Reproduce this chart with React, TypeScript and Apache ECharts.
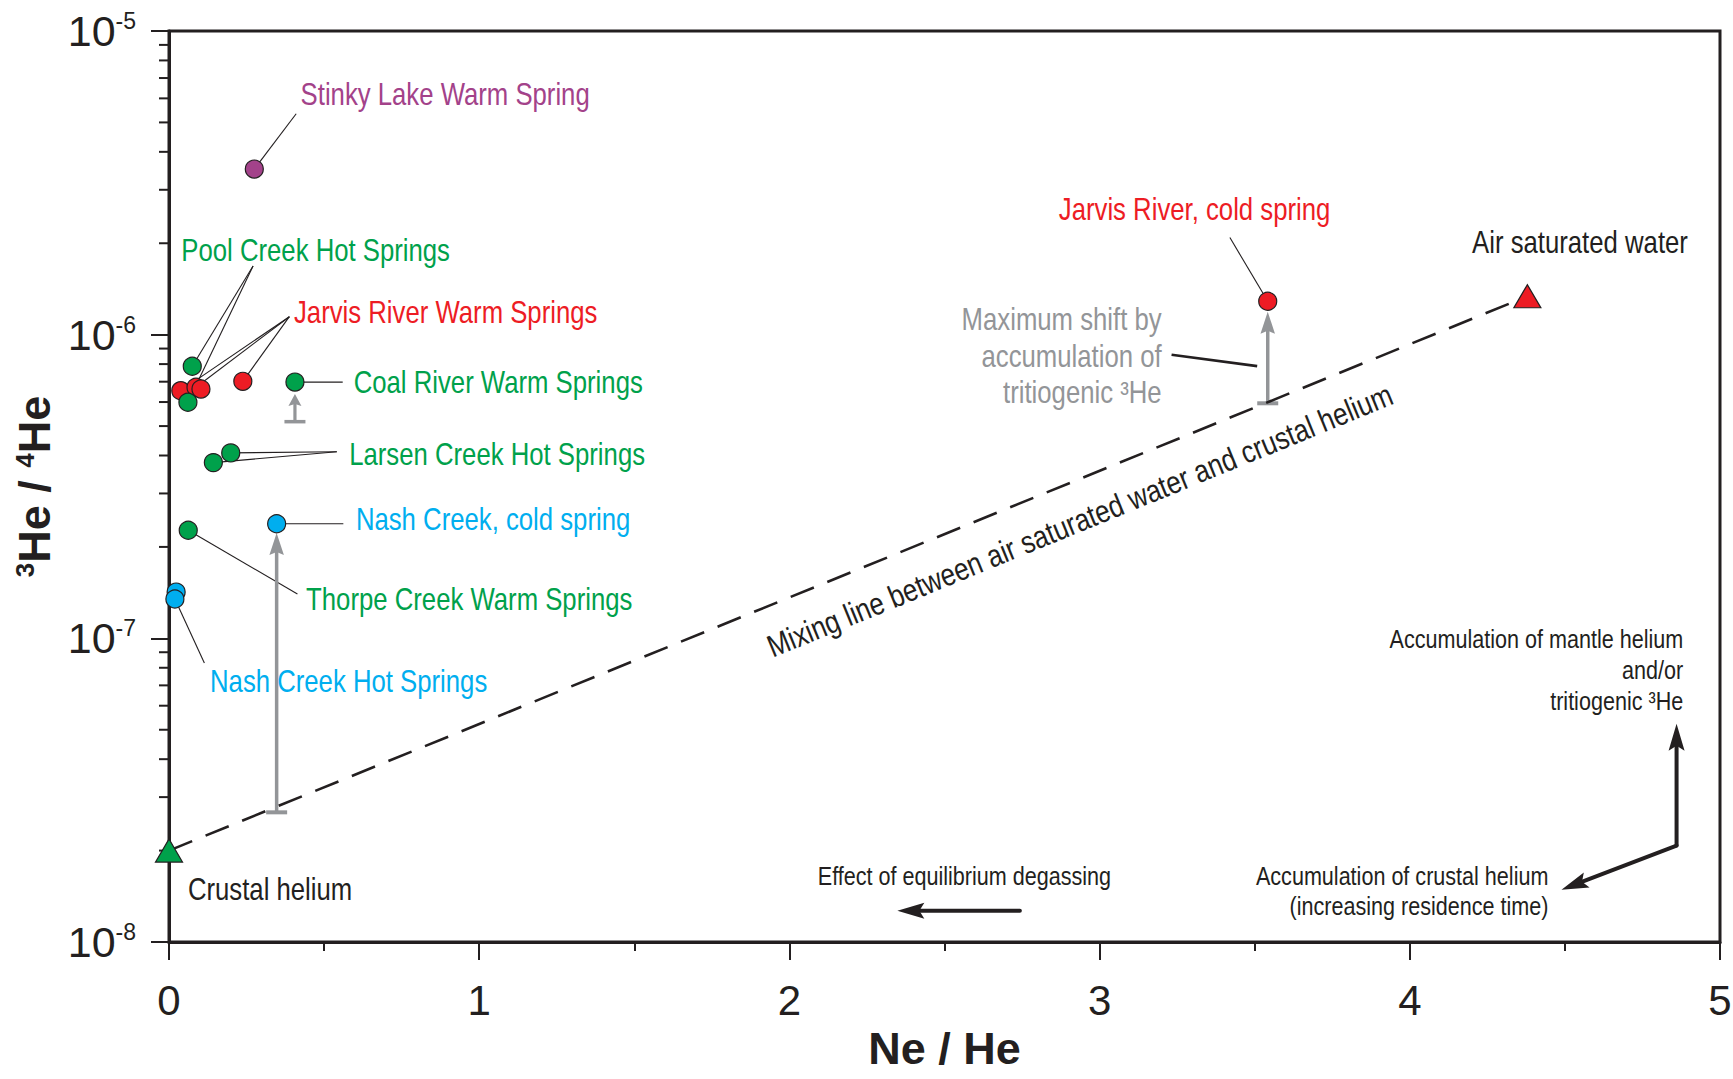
import React, { useEffect, useRef } from 'react';
import * as echarts from 'echarts';

const FONT = "'Liberation Sans Narrow', 'Arial Narrow', 'Liberation Sans', Arial, sans-serif";
const NARROW = 0.83; // horizontal condensing of annotation text (narrow face not installed)
const INK = '#231F20';
const GREEN = '#00A14B';
const RED = '#ED1C24';
const BLUE = '#00AEEF';
const PURPLE = '#A3428A';
const GRAY = '#939598';

// ---------- axis ticks ----------
const yMinorTicks = [
  2e-8, 3e-8, 4e-8, 5e-8, 6e-8, 7e-8, 8e-8, 9e-8,
  2e-7, 3e-7, 4e-7, 5e-7, 6e-7, 7e-7, 8e-7, 9e-7,
  2e-6, 3e-6, 4e-6, 5e-6, 6e-6, 7e-6, 8e-6, 9e-6,
];

// ---------- samples: [Ne/He, 3He/4He] ----------
const jarvisWarm = [[0.038, 6.54e-7], [0.087, 6.71e-7], [0.103, 6.62e-7], [0.238, 7.02e-7]];
const poolCreek = [[0.075, 7.87e-7], [0.061, 5.99e-7]];
const coalRiver = [[0.406, 6.98e-7]];
const larsenCreek = [[0.143, 3.79e-7], [0.199, 4.08e-7]];
const thorpeCreek = [[0.062, 2.27e-7]];
const nashHot = [[0.023, 1.42e-7], [0.019, 1.347e-7]];
const nashCold = [[0.347, 2.385e-7]];
const stinkyLake = [[0.275, 3.51e-6]];
const jarvisCold = [[3.542, 1.288e-6]];
const airSaturatedWater = [[4.379, 1.338e-6]];
const crustalHelium = [[0, 2.0e-8]];
const mixingLine = [[0, 2.0e-8], [4.379, 1.338e-6]];

// ---------- leader lines [x1, y1, x2, y2] ----------
const leaderLines = [
  [0.275, 3.51e-6, 0.41, 5.34e-6],
  [0.271, 1.683e-6, 0.075, 7.87e-7],
  [0.271, 1.683e-6, 0.061, 5.99e-7],
  [0.388, 1.146e-6, 0.038, 6.54e-7],
  [0.388, 1.146e-6, 0.087, 6.71e-7],
  [0.388, 1.146e-6, 0.238, 7.02e-7],
  [0.406, 6.98e-7, 0.56, 6.98e-7],
  [0.541, 4.117e-7, 0.143, 3.79e-7],
  [0.541, 4.117e-7, 0.199, 4.08e-7],
  [0.347, 2.385e-7, 0.562, 2.385e-7],
  [0.062, 2.27e-7, 0.414, 1.4e-7],
  [0.019, 1.347e-7, 0.114, 8.29e-8],
  [3.542, 1.288e-6, 3.42, 2.088e-6],
];
const maxShiftLeader = [[3.232, 8.585e-7, 3.508, 7.88e-7]];

// ---------- arrows [x1, y1, x2, y2] ----------
const tritiumShifts = [
  [0.347, 2.673e-8, 0.347, 2.222e-7],
  [3.542, 5.943e-7, 3.542, 1.19e-6],
];
const tritiumShiftCoal = [[0.406, 5.17e-7, 0.406, 6.38e-7]];
const processArrows = [
  [2.743, 1.268e-8, 2.348, 1.268e-8],
  [4.86, 2.078e-8, 4.86, 5.23e-8],
  [4.86, 2.078e-8, 4.489, 1.487e-8],
];

// ---------- annotation texts ----------
const purpleLabels = [{ text: 'Stinky Lake Warm Spring', x: 0.4242, y: 6.2e-6 }];
const greenLabels = [
  { text: 'Pool Creek Hot Springs', x: 0.0396, y: 1.904e-6 },
  { text: 'Coal River Warm Springs', x: 0.5954, y: 7.0e-7 },
  { text: 'Larsen Creek Hot Springs', x: 0.5809, y: 4.046e-7 },
  { text: 'Thorpe Creek Warm Springs', x: 0.442, y: 1.347e-7 },
];
const redLabels = [
  { text: 'Jarvis River Warm Springs', x: 0.403, y: 1.1876e-6 },
  { text: 'Jarvis River, cold spring', x: 2.8685, y: 2.596e-6 },
];
const blueLabels = [
  { text: 'Nash Creek, cold spring', x: 0.6025, y: 2.472e-7 },
  { text: 'Nash Creek Hot Springs', x: 0.1322, y: 7.237e-8 },
];
const endMemberLabels = [
  { text: 'Air saturated water', x: 4.2008, y: 2.019e-6 },
  { text: 'Crustal helium', x: 0.0609, y: 1.495e-8 },
];
const maxShiftLabel = [{ text: 'Maximum shift by\naccumulation of\ntritiogenic ³He', x: 3.2, y: 8.513e-7 }];
const processLabelsRight = [
  { text: 'Accumulation of mantle helium\nand/or\ntritiogenic ³He', x: 4.8814, y: 7.874e-8 },
  { text: 'Accumulation of crustal helium\n(increasing residence time)', x: 4.4468, y: 1.475e-8 },
];
const processLabelsLeft = [{ text: 'Effect of equilibrium degassing', x: 2.0916, y: 1.658e-8 }];
const mixingLabel = [{ text: 'Mixing line between air saturated water and crustal helium', x: 2.936, y: 2.443e-7 }];

function arrowGeom(tip: number[], from: number[], L: number, W: number, notch: number) {
  const dx = tip[0] - from[0];
  const dy = tip[1] - from[1];
  const len = Math.hypot(dx, dy) || 1;
  const ux = dx / len;
  const uy = dy / len;
  const px = -uy;
  const py = ux;
  const bx = tip[0] - ux * L;
  const by = tip[1] - uy * L;
  return {
    points: [
      [tip[0], tip[1]],
      [bx + (px * W) / 2, by + (py * W) / 2],
      [tip[0] - ux * (L - notch), tip[1] - uy * (L - notch)],
      [bx - (px * W) / 2, by - (py * W) / 2],
    ],
    shaftEnd: [tip[0] - ux * (L - notch - 1), tip[1] - uy * (L - notch - 1)],
    px,
    py,
  };
}

function arrowSeries(id: string, rows: number[][], o: any) {
  return {
    type: 'custom',
    id,
    silent: true,
    clip: false,
    z: o.z ?? 2,
    data: rows,
    renderItem: (params: any, api: any) => {
      const a = api.coord([api.value(0), api.value(1)]);
      const b = api.coord([api.value(2), api.value(3)]);
      const g = arrowGeom(b, a, o.headLength, o.headWidth, o.notch);
      const children: any[] = [
        {
          type: 'line',
          shape: { x1: a[0], y1: a[1], x2: g.shaftEnd[0], y2: g.shaftEnd[1] },
          style: { stroke: o.color, lineWidth: o.width, lineCap: o.cap || 'butt' },
        },
        { type: 'polygon', shape: { points: g.points }, style: { fill: o.color } },
      ];
      if (o.bar) {
        children.push({
          type: 'line',
          shape: {
            x1: a[0] - (g.px * o.bar) / 2,
            y1: a[1] - (g.py * o.bar) / 2,
            x2: a[0] + (g.px * o.bar) / 2,
            y2: a[1] + (g.py * o.bar) / 2,
          },
          style: { stroke: o.color, lineWidth: o.barWidth },
        });
      }
      return { type: 'group', children };
    },
  };
}

function segmentSeries(id: string, rows: number[][], color: string, width: number, z = 1) {
  return {
    type: 'custom',
    id,
    silent: true,
    clip: false,
    z,
    data: rows,
    renderItem: (params: any, api: any) => {
      const a = api.coord([api.value(0), api.value(1)]);
      const b = api.coord([api.value(2), api.value(3)]);
      return {
        type: 'line',
        shape: { x1: a[0], y1: a[1], x2: b[0], y2: b[1] },
        style: { stroke: color, lineWidth: width },
      };
    },
  };
}

function textSeries(id: string, items: any[], o: any) {
  return {
    type: 'custom',
    id,
    silent: true,
    clip: false,
    z: 5,
    data: items.map((d) => [d.x, d.y]),
    renderItem: (params: any, api: any) => {
      const p = api.coord([api.value(0), api.value(1)]);
      let rotation = 0;
      if (o.alongMixing) {
        const a = api.coord(mixingLine[0]);
        const b = api.coord(mixingLine[1]);
        rotation = Math.atan2(a[1] - b[1], b[0] - a[0]);
      }
      return {
        type: 'text',
        x: p[0],
        y: p[1],
        rotation,
        scaleX: NARROW,
        scaleY: 1,
        style: {
          text: items[params.dataIndex].text,
          fill: o.color,
          fontSize: o.size,
          fontFamily: FONT,
          align: o.align || 'left',
          verticalAlign: 'middle',
          lineHeight: o.lineHeight || o.size,
        },
      };
    },
  };
}

function dotSeries(name: string, data: number[][], color: string) {
  return {
    type: 'scatter',
    name,
    data,
    symbol: 'circle',
    symbolSize: 18,
    clip: false,
    silent: true,
    z: 4,
    itemStyle: { color, borderColor: INK, borderWidth: 1.2, opacity: 1 },
  };
}

function triangleSeries(name: string, data: number[][], color: string) {
  return {
    type: 'scatter',
    name,
    data,
    symbol: 'triangle',
    symbolSize: [27, 23],
    clip: false,
    silent: true,
    z: 4,
    itemStyle: { color, borderColor: INK, borderWidth: 1.2, opacity: 1 },
  };
}

export default function App() {
  const ref = useRef<HTMLDivElement>(null);
  useEffect(() => {
    if (!ref.current) return;
    const chart = echarts.init(ref.current, null, { renderer: 'svg' });
    const option: any = {
      animation: false,
      backgroundColor: '#ffffff',
      grid: {
        left: 169,
        right: 13,
        top: 31,
        bottom: 137,
        containLabel: false,
        outerBoundsMode: 'none',
        show: true,
        borderColor: INK,
        borderWidth: 3,
        backgroundColor: 'transparent',
      },
      xAxis: {
        type: 'value',
        min: 0,
        max: 5,
        interval: 1,
        name: 'Ne / He',
        nameLocation: 'middle',
        nameGap: 84,
        nameTextStyle: { fontFamily: FONT, fontWeight: 'bold', fontSize: 45, color: INK },
        axisLine: { show: true, onZero: false, lineStyle: { color: INK, width: 3 } },
        axisTick: { show: true, inside: false, length: 18, lineStyle: { color: INK, width: 2 } },
        minorTick: { show: true, splitNumber: 2, length: 9, lineStyle: { color: INK, width: 2 } },
        axisLabel: { margin: 37, fontFamily: FONT, fontSize: 42, color: INK },
        splitLine: { show: false },
        minorSplitLine: { show: false },
      },
      yAxis: {
        type: 'log',
        logBase: 10,
        min: 1e-8,
        max: 1e-5,
        name: '{s|3}{b|He / }{s|4}{b|He}',
        nameLocation: 'middle',
        nameGap: 105,
        nameRotate: 90,
        nameTextStyle: {
          fontFamily: FONT,
          fontWeight: 'bold',
          fontSize: 45,
          color: INK,
          rich: {
            b: { fontFamily: FONT, fontWeight: 'bold', fontSize: 45, lineHeight: 45, color: INK },
            s: { fontFamily: FONT, fontWeight: 'bold', fontSize: 26, lineHeight: 26, verticalAlign: 'top', color: INK },
          },
        },
        axisLine: { show: true, onZero: false, lineStyle: { color: INK, width: 3 } },
        axisTick: { show: true, inside: false, length: 18, lineStyle: { color: INK, width: 2 } },
        axisLabel: {
          margin: 33,
          formatter: (v: number) => `{b|10}{s|${Math.round(Math.log10(v))}}`,
          rich: {
            b: { fontFamily: FONT, fontSize: 43, lineHeight: 43, color: INK },
            s: { fontFamily: FONT, fontSize: 23, lineHeight: 23, verticalAlign: 'top', color: INK },
          },
        },
        splitLine: { show: false },
      },
      series: [
        {
          type: 'custom',
          id: 'yMinorTicks',
          silent: true,
          clip: false,
          z: 3,
          data: yMinorTicks.map((v) => [0, v]),
          renderItem: (params: any, api: any) => {
            const p = api.coord([api.value(0), api.value(1)]);
            return {
              type: 'line',
              shape: { x1: p[0] - 10, y1: p[1], x2: p[0], y2: p[1] },
              style: { stroke: INK, lineWidth: 2 },
            };
          },
        },
        {
          type: 'line',
          name: 'Mixing line',
          data: mixingLine,
          symbol: 'none',
          silent: true,
          clip: false,
          z: 2,
          lineStyle: { color: INK, width: 2.6, type: [25, 14.5] },
        },
        segmentSeries('leaders', leaderLines, INK, 1.1, 1),
        segmentSeries('maxShiftLeader', maxShiftLeader, INK, 2.6, 1),
        arrowSeries('tritium', tritiumShifts, {
          color: GRAY, width: 3.5, headLength: 22, headWidth: 14.5, notch: 3, bar: 21, barWidth: 4,
        }),
        arrowSeries('tritiumCoal', tritiumShiftCoal, {
          color: GRAY, width: 3.2, headLength: 12, headWidth: 13, notch: 2, bar: 21, barWidth: 3.5,
        }),
        arrowSeries('process', processArrows, {
          color: INK, width: 4, headLength: 27, headWidth: 16, notch: 5, cap: 'round',
        }),
        dotSeries('Jarvis River Warm Springs', jarvisWarm, RED),
        dotSeries('Pool Creek Hot Springs', poolCreek, GREEN),
        dotSeries('Coal River Warm Springs', coalRiver, GREEN),
        dotSeries('Larsen Creek Hot Springs', larsenCreek, GREEN),
        dotSeries('Thorpe Creek Warm Springs', thorpeCreek, GREEN),
        dotSeries('Nash Creek Hot Springs', nashHot, BLUE),
        dotSeries('Nash Creek, cold spring', nashCold, BLUE),
        dotSeries('Stinky Lake Warm Spring', stinkyLake, PURPLE),
        dotSeries('Jarvis River, cold spring', jarvisCold, RED),
        triangleSeries('Air saturated water', airSaturatedWater, RED),
        triangleSeries('Crustal helium', crustalHelium, GREEN),
        textSeries('purpleLabels', purpleLabels, { color: PURPLE, size: 31 }),
        textSeries('greenLabels', greenLabels, { color: GREEN, size: 31 }),
        textSeries('redLabels', redLabels, { color: RED, size: 31 }),
        textSeries('blueLabels', blueLabels, { color: BLUE, size: 31 }),
        textSeries('endMemberLabels', endMemberLabels, { color: INK, size: 31 }),
        textSeries('maxShiftLabel', maxShiftLabel, { color: GRAY, size: 31, align: 'right', lineHeight: 36.5 }),
        textSeries('processLabelsRight', processLabelsRight, { color: INK, size: 26, align: 'right', lineHeight: 31 }),
        textSeries('processLabelsLeft', processLabelsLeft, { color: INK, size: 26 }),
        textSeries('mixingLabel', mixingLabel, { color: INK, size: 31.5, align: 'center', alongMixing: true }),
      ],
    };
    chart.setOption(option);
    return () => chart.dispose();
  }, []);
  return (
    <div
      ref={ref}
      style={{ position: 'fixed', left: 0, top: 0, width: 1733, height: 1079, background: '#fff' }}
    />
  );
}
